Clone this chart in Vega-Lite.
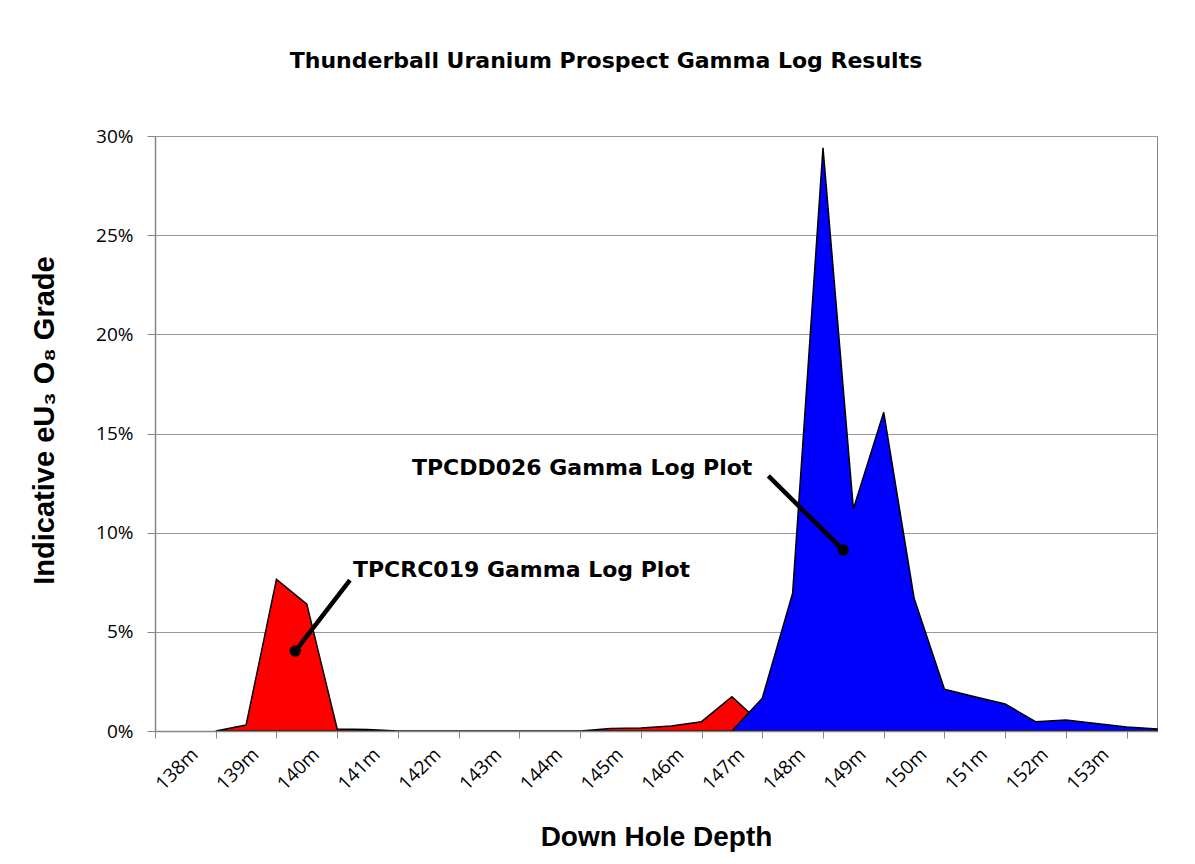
{
  "$schema": "https://vega.github.io/schema/vega-lite/v6.json",
  "width": 1002,
  "height": 595,
  "autosize": {"type": "none"},
  "padding": {"left": 155, "top": 136, "right": 38, "bottom": 133},
  "background": "white",
  "title": {
    "text": "Thunderball Uranium Prospect Gamma Log Results",
    "font": "DejaVu Sans",
    "fontSize": 22,
    "fontWeight": "bold",
    "color": "black",
    "anchor": "middle",
    "baseline": "alphabetic",
    "offset": 37,
    "dx": -50
  },
  "config": {"view": {"stroke": "#868686", "strokeWidth": 1}},
  "datasets": {
    "red": [
      {"depth": 138.5, "grade": 0},
      {"depth": 139.0, "grade": 0.3},
      {"depth": 139.5, "grade": 7.65},
      {"depth": 140.0, "grade": 6.4},
      {"depth": 140.5, "grade": 0.1},
      {"depth": 141.0, "grade": 0.08},
      {"depth": 141.5, "grade": 0},
      {"depth": 142.0, "grade": 0},
      {"depth": 142.5, "grade": 0},
      {"depth": 143.0, "grade": 0},
      {"depth": 143.5, "grade": 0},
      {"depth": 144.0, "grade": 0},
      {"depth": 144.5, "grade": 0},
      {"depth": 145.0, "grade": 0.12},
      {"depth": 145.5, "grade": 0.15},
      {"depth": 146.0, "grade": 0.25},
      {"depth": 146.5, "grade": 0.47},
      {"depth": 147.0, "grade": 1.73},
      {"depth": 147.5, "grade": 0.33},
      {"depth": 148.0, "grade": 0.15},
      {"depth": 148.5, "grade": 0.1},
      {"depth": 149.0, "grade": 0.05}
    ],
    "blue": [
      {"depth": 147.0, "grade": 0},
      {"depth": 147.5, "grade": 1.65},
      {"depth": 148.0, "grade": 6.95},
      {"depth": 148.5, "grade": 29.4},
      {"depth": 149.0, "grade": 11.2},
      {"depth": 149.5, "grade": 16.07},
      {"depth": 150.0, "grade": 6.7},
      {"depth": 150.5, "grade": 2.1},
      {"depth": 151.0, "grade": 1.73},
      {"depth": 151.5, "grade": 1.36},
      {"depth": 152.0, "grade": 0.47},
      {"depth": 152.5, "grade": 0.55},
      {"depth": 153.0, "grade": 0.38},
      {"depth": 153.5, "grade": 0.2},
      {"depth": 154.0, "grade": 0.1}
    ],
    "notes": [
      {"label": "TPCRC019 Gamma Log Plot", "depth": 140.76, "grade": 7.77, "ldepth": 140.71, "lgrade": 7.61, "pdepth": 139.81, "pgrade": 4.03},
      {"label": "TPCDD026 Gamma Log Plot", "depth": 141.73, "grade": 12.91, "ldepth": 147.6, "lgrade": 12.86, "pdepth": 148.83, "pgrade": 9.13}
    ]
  },
  "encoding": {
    "x": {
      "field": "depth",
      "type": "quantitative",
      "scale": {"domain": [137.5, 154], "nice": false, "zero": false},
      "axis": {
        "values": [137.5, 138, 138.5, 139, 139.5, 140, 140.5, 141, 141.5, 142, 142.5, 143, 143.5, 144, 144.5, 145, 145.5, 146, 146.5, 147, 147.5, 148, 148.5, 149, 149.5, 150, 150.5, 151, 151.5, 152, 152.5, 153, 153.5],
        "labelExpr": "datum.value % 1 == 0 ? datum.value + 'm' : ''",
        "tickOpacity": {"condition": {"test": "datum.value % 1 != 0", "value": 1}, "value": 0},
        "labelAngle": -45,
        "labelAlign": "right",
        "labelBaseline": "middle",
        "labelOffset": 9,
        "labelPadding": 13,
        "labelFont": "Open Sans",
        "labelFontSize": 19,
        "labelColor": "black",
        "labelOverlap": false,
        "labelFlush": false,
        "labelBound": false,
        "tickSize": 7,
        "tickColor": "#868686",
        "domainColor": "#868686",
        "domainWidth": 1.5,
        "grid": false,
        "title": "Down Hole Depth",
        "titleFont": "Liberation Sans",
        "titleFontSize": 28,
        "titleFontWeight": "bold",
        "titleColor": "black",
        "titleBaseline": "alphabetic",
        "titleAlign": "center",
        "titleX": 501,
        "titleY": 114,
        "zindex": 1
      }
    },
    "y": {
      "field": "grade",
      "type": "quantitative",
      "scale": {"domain": [0, 30], "nice": false},
      "axis": {
        "values": [0, 5, 10, 15, 20, 25, 30],
        "labelExpr": "datum.value + '%'",
        "labelFont": "Open Sans",
        "labelFontSize": 19,
        "labelColor": "black",
        "labelPadding": 14,
        "tickSize": 8,
        "tickColor": "#868686",
        "domainColor": "#868686",
        "domainWidth": 1.5,
        "grid": true,
        "gridColor": "#9a9a9a",
        "gridWidth": 1,
        "title": "Indicative eU₃ O₈ Grade",
        "titleFont": "Liberation Sans",
        "titleFontSize": 29,
        "titleFontWeight": "bold",
        "titleColor": "black",
        "titleAngle": -90,
        "titleAlign": "center",
        "titleBaseline": "middle",
        "titleX": -111,
        "titleY": 284
      }
    }
  },
  "layer": [
    {
      "data": {"name": "red"},
      "mark": {"type": "area", "color": "#ff0000", "stroke": "black", "strokeWidth": 1.5, "fillOpacity": 1},
      "encoding": {}
    },
    {
      "data": {"name": "blue"},
      "mark": {"type": "area", "color": "#0000ff", "stroke": "black", "strokeWidth": 1.5, "fillOpacity": 1},
      "encoding": {}
    },
    {
      "data": {"name": "notes"},
      "mark": {"type": "rule", "color": "black", "strokeWidth": 4.5},
      "encoding": {
        "x": {"field": "ldepth", "type": "quantitative"},
        "y": {"field": "lgrade", "type": "quantitative"},
        "x2": {"field": "pdepth"},
        "y2": {"field": "pgrade"}
      }
    },
    {
      "data": {"name": "notes"},
      "mark": {"type": "point", "filled": true, "color": "black", "size": 130, "opacity": 1},
      "encoding": {
        "x": {"field": "pdepth", "type": "quantitative"},
        "y": {"field": "pgrade", "type": "quantitative"}
      }
    },
    {
      "data": {"name": "notes"},
      "mark": {"type": "text", "align": "left", "baseline": "alphabetic", "font": "DejaVu Sans", "fontSize": 22, "fontWeight": "bold", "color": "black"},
      "encoding": {
        "text": {"field": "label"}
      }
    }
  ]
}
